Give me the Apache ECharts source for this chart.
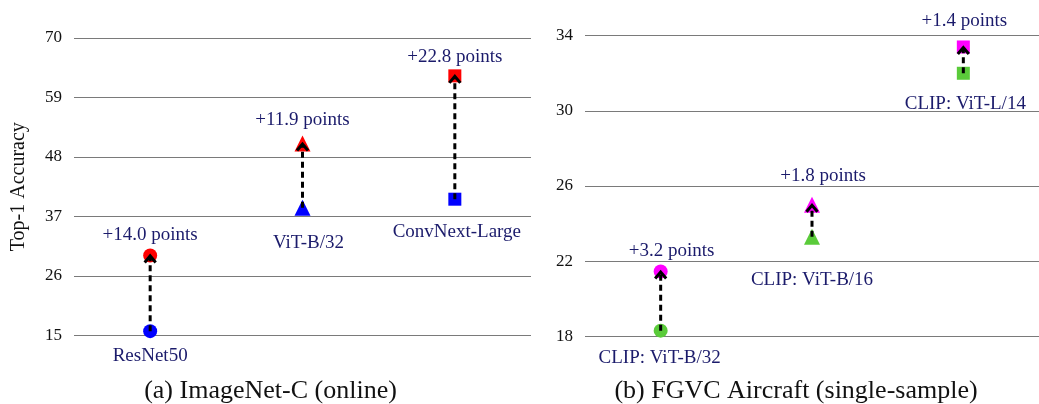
<!DOCTYPE html>
<html>
<head>
<meta charset="utf-8">
<script src="https://cdn.jsdelivr.net/npm/echarts@6/dist/echarts.min.js"></script>
<style>
html,body{margin:0;padding:0;background:#fff;}
#chart{width:1039px;height:404px;}
</style>
</head>
<body>
<div id="chart"></div>
<script>
// ---- data ----
const leftCategories = ['ResNet50', 'ViT-B/32', 'ConvNext-Large'];
const leftBefore = [15.8, 38.6, 40.2];
const leftAfter = [29.8, 50.5, 63.0];
const leftGain = [14.0, 11.9, 22.8];
const leftTicks = [15, 26, 37, 48, 59, 70];

const rightCategories = ['CLIP: ViT-B/32', 'CLIP: ViT-B/16', 'CLIP: ViT-L/14'];
const rightBefore = [18.3, 23.3, 32.0];
const rightAfter = [21.45, 25.0, 33.4];
const rightGain = [3.2, 1.8, 1.4];
const rightTicks = [18, 22, 26, 30, 34];

const yAxisTitle = 'Top-1 Accuracy';
const captions = ['(a) ImageNet-C (online)', '(b) FGVC Aircraft (single-sample)'];

// ---- styles / layout ----
const FONT = "'Liberation Serif', 'Times New Roman', serif";
const LABEL_COLOR = '#1b1b6b';
const symbols = ['circle', 'triangle', 'rect'];
const symbolSizes = [14, 16, 13];
const leftUpperOffsets = [[0, -20], [0, -23], [0, -19]];
const leftLowerOffsets = [[0, 25], [6, 35], [2, 33]];
const rightUpperOffsets = [[11, -20], [11, -29], [1, -26]];
const rightLowerOffsets = [[-1, 27], [0, 43], [2, 31]];

function scatterData(vals, offsets, texts) {
  return vals.map((v, i) => ({
    value: [i, v],
    symbol: symbols[i],
    symbolSize: symbolSizes[i],
    label: {
      show: true, position: 'inside', offset: offsets[i],
      formatter: texts[i], color: LABEL_COLOR, fontFamily: FONT, fontSize: 19
    }
  }));
}

function arrowItem(params, api) {
  const p0 = api.coord([api.value(0), api.value(1)]);
  const p1 = api.coord([api.value(0), api.value(2)]);
  return {
    type: 'group',
    children: [
      { type: 'line', shape: { x1: p0[0], y1: p0[1], x2: p1[0], y2: p1[1] + 2 },
        style: { stroke: '#000', lineWidth: 3, lineDash: [6, 4], fill: null } },
      { type: 'polyline', shape: { points: [[p1[0] - 5.5, p1[1] + 7], [p1[0], p1[1] + 0.5], [p1[0] + 5.5, p1[1] + 7]] },
        style: { stroke: '#000', lineWidth: 3, fill: null, lineJoin: 'miter' } }
    ]
  };
}

function yAxisCfg(gridIndex, min, max, ticks, name) {
  return {
    type: 'value', gridIndex, min, max,
    name: name || '', nameLocation: 'middle', nameGap: 45,
    nameTextStyle: { fontFamily: FONT, fontSize: 20, color: '#111' },
    axisLine: { show: false },
    axisTick: { show: false, customValues: ticks },
    axisLabel: { customValues: ticks, fontFamily: FONT, fontSize: 17, color: '#111', margin: 12 },
    splitLine: { show: true, lineStyle: { color: '#7a7a7a', width: 1 } }
  };
}

function xAxisCfg(gridIndex, cats) {
  return {
    type: 'category', gridIndex, data: cats, boundaryGap: true,
    axisLine: { show: false }, axisTick: { show: false }, axisLabel: { show: false },
    splitLine: { show: false }
  };
}

const chart = echarts.init(document.getElementById('chart'), null, { renderer: 'canvas' });
chart.setOption({
  animation: false,
  backgroundColor: '#fff',
  grid: [
    { left: 74, width: 457, top: 38, height: 297.5 },
    { left: 585, width: 462, top: 35.7, height: 300.6 }
  ],
  xAxis: [xAxisCfg(0, leftCategories), xAxisCfg(1, rightCategories)],
  yAxis: [
    yAxisCfg(0, leftTicks[0], leftTicks[leftTicks.length - 1], leftTicks, yAxisTitle),
    yAxisCfg(1, rightTicks[0], rightTicks[rightTicks.length - 1], rightTicks)
  ],
  series: [
    { type: 'scatter', xAxisIndex: 0, yAxisIndex: 0, itemStyle: { color: '#0000ff', opacity: 1 }, z: 2,
      data: scatterData(leftBefore, leftLowerOffsets, leftCategories) },
    { type: 'scatter', xAxisIndex: 0, yAxisIndex: 0, itemStyle: { color: '#ff0000', opacity: 1 }, z: 2,
      data: scatterData(leftAfter, leftUpperOffsets, leftGain.map(g => '+' + g.toFixed(1) + ' points')) },
    { type: 'scatter', xAxisIndex: 1, yAxisIndex: 1, itemStyle: { color: '#5acb3a', opacity: 1 }, z: 2,
      data: scatterData(rightBefore, rightLowerOffsets, rightCategories) },
    { type: 'scatter', xAxisIndex: 1, yAxisIndex: 1, itemStyle: { color: '#ff00ff', opacity: 1 }, z: 2,
      data: scatterData(rightAfter, rightUpperOffsets, rightGain.map(g => '+' + g.toFixed(1) + ' points')) },
    { type: 'custom', xAxisIndex: 0, yAxisIndex: 0, z: 5, renderItem: arrowItem,
      encode: { x: 0, y: [1, 2] },
      data: leftBefore.map((v, i) => [i, v, leftAfter[i]]) },
    { type: 'custom', xAxisIndex: 1, yAxisIndex: 1, z: 5, renderItem: arrowItem,
      encode: { x: 0, y: [1, 2] },
      data: rightBefore.map((v, i) => [i, v, rightAfter[i]]) }
  ],
  graphic: [
    { type: 'text', x: 270.5, y: 391, style: { text: captions[0], font: '26px ' + FONT, fill: '#111', align: 'center', verticalAlign: 'middle' } },
    { type: 'text', x: 796, y: 391, style: { text: captions[1], font: '26px ' + FONT, fill: '#111', align: 'center', verticalAlign: 'middle' } }
  ]
});
</script>
</body>
</html>
